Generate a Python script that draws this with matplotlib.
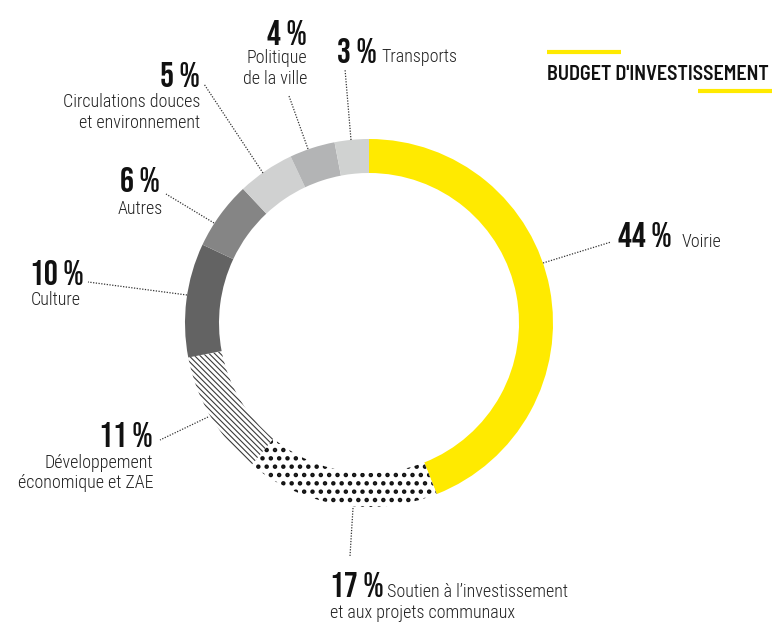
import matplotlib
matplotlib.use("Agg")
import matplotlib.pyplot as plt

W, H = 774, 623

# data (clockwise from 12 o'clock)
shares = [44, 17, 11, 10, 6, 5, 4, 3]
pct_labels = ["44 %", "17 %", "11 %", "10 %", "6 %", "5 %", "4 %", "3 %"]
names = ["Voirie",
         "Soutien à l’investissement\net aux projets communaux",
         "Développement\néconomique et ZAE",
         "Culture",
         "Autres",
         "Circulations douces\net environnement",
         "Politique\nde la ville",
         "Transports"]
colors = ["#ffea00", "white", "white", "#636363", "#858585", "#d0d1d1", "#b3b4b5", "#d0d2d1"]
title = "BUDGET D'INVESTISSEMENT"

NUM_FONT = ["Bebas Neue", "Barlow Condensed", "DejaVu Sans"]
TITLE_FONT = ["Barlow Semi Condensed", "Barlow Condensed", "DejaVu Sans"]
TXT_FONT = ["Roboto Condensed", "Barlow Condensed", "DejaVu Sans"]

fig = plt.figure(figsize=(W / 100, H / 100), dpi=100)
ax = fig.add_axes([0, 0, 1, 1])

cx, cy, r = 369, 323, 184
wedges, _ = ax.pie(shares, colors=colors, startangle=90, counterclock=False,
                   radius=r, center=(cx, H - cy),
                   wedgeprops=dict(width=34, linewidth=0))

# hatched segments
wedges[1].set_hatch("..")
wedges[1].set_edgecolor("#111111")
wedges[2].set_hatch("\\\\\\\\\\\\")
wedges[2].set_edgecolor("#3a3a3a")
for w, hl in ((wedges[1], 2.0), (wedges[2], 0.8)):
    w.set_linewidth(0)
    if hasattr(w, "set_hatch_linewidth"):
        w.set_hatch_linewidth(hl)

ax.set_xlim(0, W)
ax.set_ylim(0, H)
ax.set_aspect("equal")
ax.axis("off")


def Y(y):
    return H - y


# leader lines (pixel coords, top-left origin)
leaders = [
    ((543, 263), (611, 242)),
    ((353, 508), (350, 556)),
    ((208, 417), (160, 440)),
    ((187, 295), (88, 282)),
    ((214, 223), (166, 194)),
    ((263, 173), (204, 84)),
    ((308, 149), (289, 96)),
    ((351, 140), (345, 69)),
]
for (x0, y0), (x1, y1) in leaders:
    ax.plot([x0, x1], [Y(y0), Y(y1)], color="#333333", lw=0.9,
            linestyle=(0, (1, 1.2)))

# percent labels: x, baseline, ha
pct_pos = [
    (618, 247, "left"),
    (330, 597, "left"),
    (153, 447, "right"),
    (30, 285, "left"),
    (140, 192, "center"),
    (200, 87, "right"),
    (307, 45, "right"),
    (337, 63, "left"),
]
for txt, (x, y, ha) in zip(pct_labels, pct_pos):
    ax.text(x, Y(y), txt, ha=ha, va="baseline", family=NUM_FONT,
            fontweight="bold", fontsize=25, color="#111111")

# category labels: x, baseline of first line, ha
name_pos = [
    (682, 247, "left"),
    (387, 597, "left"),
    (153, 468, "right"),
    (31, 305, "left"),
    (140, 214, "center"),
    (200, 107, "right"),
    (307, 63, "right"),
    (381, 62, "left"),
]
for txt, (x, y, ha) in zip(names, name_pos):
    lines = txt.split("\n")
    for i, line in enumerate(lines):
        lx = x
        if i > 0 and ha == "left" and x == 387:
            lx = 330
        ax.text(lx, Y(y + i * 20.5), line, ha=ha, va="baseline",
                family=TXT_FONT, fontweight="light", fontsize=13,
                color="#222222")

# title with yellow bars
ax.text(547, Y(80), title, ha="left", va="baseline", family=TITLE_FONT,
        fontweight="semibold", fontsize=14.5, color="#111111")
ax.plot([547, 621], [Y(52), Y(52)], color="#ffea00", lw=3, solid_capstyle="butt")
ax.plot([698, 772], [Y(91), Y(91)], color="#ffea00", lw=3, solid_capstyle="butt")

fig.savefig("out.png", dpi=100)
